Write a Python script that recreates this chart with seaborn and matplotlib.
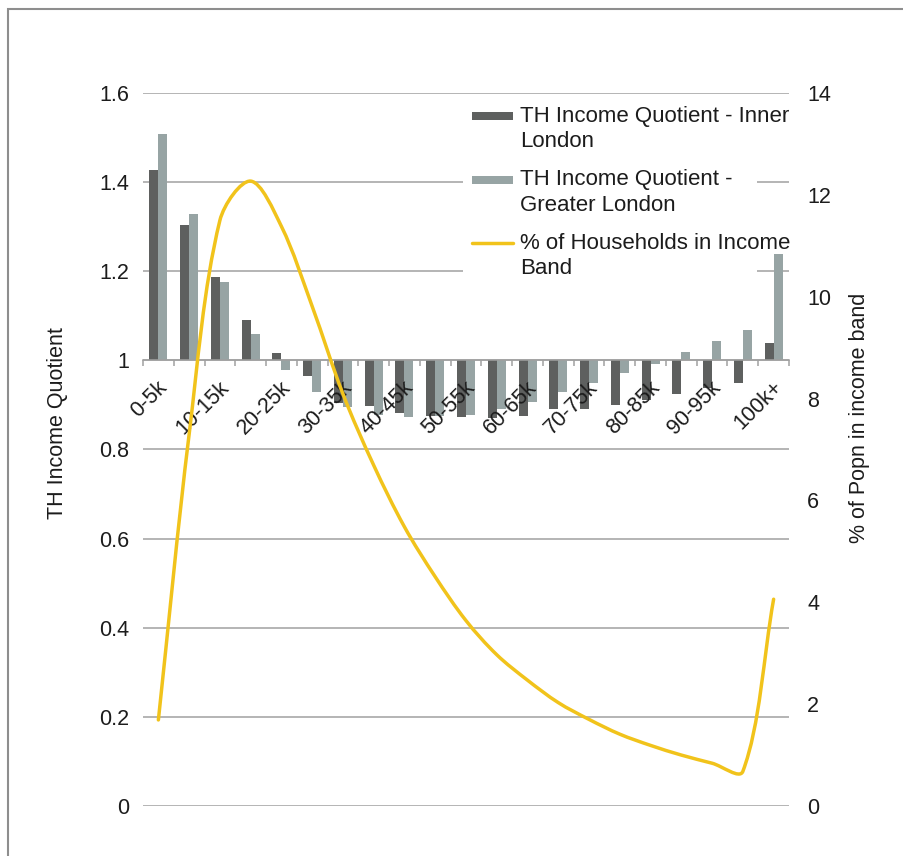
import numpy as np
import pandas as pd
import matplotlib
matplotlib.use("Agg")
import matplotlib.pyplot as plt
import seaborn as sns
from matplotlib.path import Path
from matplotlib.patches import PathPatch, Patch, Rectangle
from matplotlib.lines import Line2D
from matplotlib.legend_handler import HandlerPatch, HandlerLine2D
from matplotlib.transforms import ScaledTranslation
from matplotlib.ticker import FuncFormatter

# ---- data -------------------------------------------------------------
bands = ["0-5k", "5-10k", "10-15k", "15-20k", "20-25k", "25-30k", "30-35k",
         "35-40k", "40-45k", "45-50k", "50-55k", "55-60k", "60-65k", "65-70k",
         "70-75k", "75-80k", "80-85k", "85-90k", "90-95k", "95-100k", "100k+"]

inner_london = [1.428, 1.304, 1.187, 1.091, 1.017, 0.964, 0.905, 0.898,
                0.883, 0.875, 0.872, 0.870, 0.875, 0.890, 0.892, 0.900,
                0.912, 0.924, 0.937, 0.949, 1.040]

greater_london = [1.508, 1.329, 1.176, 1.060, 0.979, 0.928, 0.895, 0.878,
                  0.872, 0.875, 0.878, 0.890, 0.907, 0.928, 0.949, 0.971,
                  0.991, 1.019, 1.044, 1.068, 1.239]

households_pct = [1.69, 7.30, 11.50, 12.27, 11.38, 9.81, 8.09, 6.69, 5.48,
                  4.50, 3.64, 2.97, 2.47, 2.03, 1.70, 1.41, 1.19, 1.00,
                  0.84, 0.68, 4.06]

series_names = ["TH Income Quotient - Inner\nLondon",
                "TH Income Quotient -\nGreater London"]
line_name = "% of Households in Income\nBand"

left_ticks = [0, 0.2, 0.4, 0.6, 0.8, 1.0, 1.2, 1.4, 1.6]
right_ticks = [0, 2, 4, 6, 8, 10, 12, 14]

# ---- style ------------------------------------------------------------
DARK = "#5e605f"
LIGHT = "#97a4a4"
GOLD = "#f1c31b"
GRID = "#a0a0a0"
TEXT = "#1c1c1c"
FS = 15.5
LEG_FS = 16

sns.set_theme(style="white")
plt.rcParams["font.family"] = ["Liberation Sans", "DejaVu Sans"]
plt.rcParams["text.color"] = TEXT

W, H = 904, 856
fig = plt.figure(figsize=(W / 100, H / 100), dpi=100)
ax = fig.add_axes([143 / W, 50 / H, 646 / W, 713 / H])

df = pd.DataFrame({
    "band": bands * 2,
    "series": [series_names[0]] * len(bands) + [series_names[1]] * len(bands),
    "quotient": inner_london + greater_london,
})
# bars hang from the quotient = 1 baseline
df["excess"] = df["quotient"] - 1.0

sns.barplot(data=df, x="band", y="excess", hue="series", order=bands,
            hue_order=series_names, palette=[DARK, LIGHT], saturation=1,
            width=0.585, bottom=1.0, errorbar=None, linewidth=0,
            legend=False, ax=ax, zorder=2)

ax.set_xlim(-0.5, len(bands) - 0.5)
ax.set_ylim(0, 1.6)
ax.set_yticks(left_ticks)
ax.yaxis.set_major_formatter(FuncFormatter(lambda v, p: f"{v:g}"))
ax.yaxis.grid(True, color=GRID, linewidth=1.1)
ax.xaxis.grid(False)
ax.set_axisbelow(True)
for side in ("left", "right", "top"):
    ax.spines[side].set_visible(False)
ax.spines["bottom"].set_position(("data", 1.0))
ax.spines["bottom"].set_color(GRID)
ax.spines["bottom"].set_linewidth(1.1)
ax.spines["bottom"].set_zorder(2.5)

ax.set_xticks(range(len(bands)))
ax.set_xticks(np.arange(-0.5, len(bands), 1.0), minor=True)
ax.tick_params(axis="x", which="major", length=0, labelbottom=False)
ax.tick_params(axis="x", which="minor", bottom=True, length=4.5, width=1.1,
               color=GRID, direction="out")
ax.tick_params(axis="y", length=0, pad=10, labelsize=FS, labelcolor=TEXT)
ax.set_xlabel("")
ax.set_ylabel("TH Income Quotient", fontsize=FS, color=TEXT)
ax.yaxis.set_label_coords((68 - 143) / 646, (806 - 423) / 713)

# category labels every second band, slanted under the baseline
lab_off = ScaledTranslation(6 / 100, -24 / 100, fig.dpi_scale_trans)
for i, lab in enumerate(bands):
    if i % 2 == 0:
        ax.text(i, 1.0, lab, transform=ax.transData + lab_off, rotation=45,
                ha="right", va="center", rotation_mode="anchor",
                fontsize=FS, color=TEXT, zorder=3)

# ---- secondary axis: share of households ------------------------------
ax2 = ax.twinx()
ax2.set_ylim(0, 14)
ax2.set_yticks(right_ticks)
ax2.yaxis.set_major_formatter(FuncFormatter(lambda v, p: f"{v:g}"))
for side in ("left", "right", "top", "bottom"):
    ax2.spines[side].set_visible(False)
ax2.tick_params(axis="y", length=0, pad=13, labelsize=FS, labelcolor=TEXT)
ax2.set_ylabel("% of Popn in income band", fontsize=FS, color=TEXT)
ax2.yaxis.set_label_coords((849 - 143) / 646, (806 - 418) / 713)


def smooth_path(axis, xs, ys):
    """Bezier path through the points with chord-weighted tangents."""
    pts = axis.transData.transform(np.column_stack([xs, ys]))
    n = len(pts)
    verts, codes = [pts[0]], [Path.MOVETO]
    for i in range(n - 1):
        p0 = pts[i - 1] if i > 0 else pts[i]
        p1, p2 = pts[i], pts[i + 1]
        p3 = pts[i + 2] if i + 2 < n else pts[i + 1]
        d01 = np.hypot(*(p1 - p0))
        d12 = np.hypot(*(p2 - p1))
        d23 = np.hypot(*(p3 - p2))
        c1 = p1 + (p2 - p0) * (d12 / (d01 + d12)) / 3.0
        c2 = p2 - (p3 - p1) * (d12 / (d12 + d23)) / 3.0
        verts += [c1, c2, p2]
        codes += [Path.CURVE4] * 3
    verts = axis.transData.inverted().transform(np.array(verts))
    return Path(verts, codes)


ax2.add_patch(PathPatch(smooth_path(ax2, np.arange(len(bands)), households_pct),
                        fill=False, edgecolor=GOLD, linewidth=2.5,
                        capstyle="round", joinstyle="round", zorder=3))

# white backing behind the legend block
ax2.add_artist(Rectangle((463 / W, 1 - 283 / H), (757 - 463) / W, (283 - 96) / H,
                         transform=fig.transFigure, facecolor="white",
                         edgecolor="none", zorder=1))

# ---- legend -------------------------------------------------------------
LIFT = 9.4
KEY_H = 5.8


def bar_key(legend, orig_handle, xdescent, ydescent, width, height, fontsize):
    return Rectangle((-xdescent, -ydescent + (height - KEY_H) / 2 + LIFT),
                     width, KEY_H)


class RaisedLine(HandlerLine2D):
    def create_artists(self, legend, orig_handle, xdescent, ydescent, width,
                       height, fontsize, trans):
        arts = super().create_artists(legend, orig_handle, xdescent, ydescent,
                                      width, height, fontsize, trans)
        for a in arts:
            a.set_ydata(np.asarray(a.get_ydata()) + LIFT)
        return arts


handles = [Patch(facecolor=DARK, edgecolor="none"),
           Patch(facecolor=LIGHT, edgecolor="none"),
           Line2D([], [], color=GOLD, linewidth=2.5)]
labels = series_names + [line_name]
leg = ax2.legend(handles, labels, loc="upper left",
                 bbox_to_anchor=(472 / W, 1 - 106 / H),
                 bbox_transform=fig.transFigure, frameon=False, fontsize=LEG_FS,
                 handlelength=1.85, handletextpad=0.32, labelspacing=0.76,
                 borderpad=0, borderaxespad=0, labelcolor=TEXT,
                 handler_map={Patch: HandlerPatch(patch_func=bar_key),
                              Line2D: RaisedLine()})
for t in leg.get_texts():
    t.set_linespacing(1.28)
leg.set_zorder(5)

# outer frame
fig.add_artist(Rectangle((8 / W, -0.05), 1.0, (H - 9) / H + 0.05,
                         transform=fig.transFigure, fill=False,
                         edgecolor="#8e8e8e", linewidth=1.5))

fig.savefig("out.png", dpi=100)
